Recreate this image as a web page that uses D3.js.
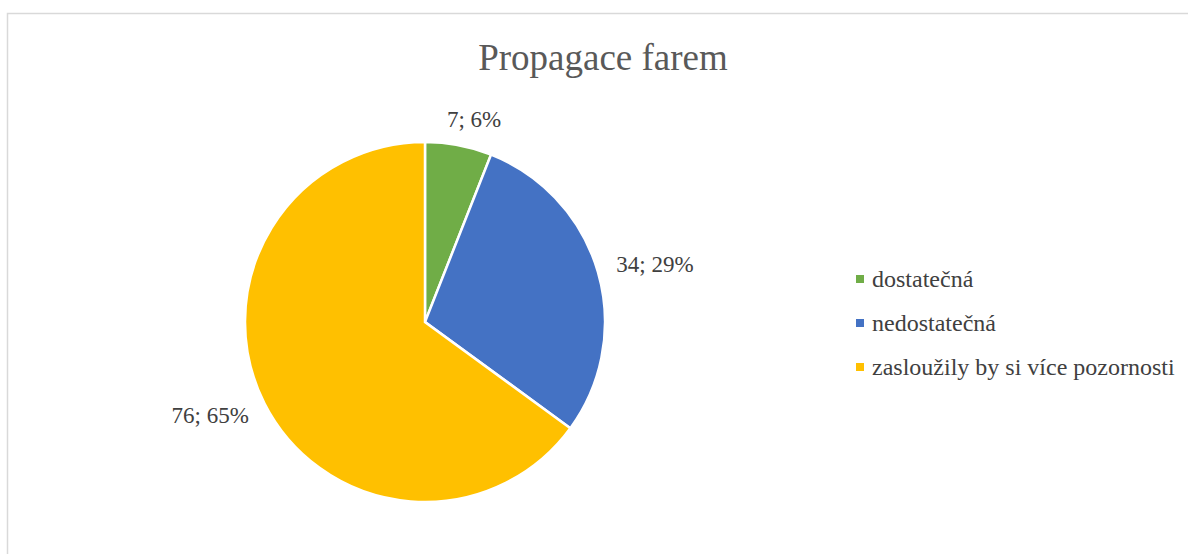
<!DOCTYPE html>
<html>
<head>
<meta charset="utf-8">
<script src="https://cdn.jsdelivr.net/npm/d3@7"></script>
<style>
  body { margin: 0; background: #fff; }
</style>
</head>
<body>
<svg id="chart" width="1188" height="554"></svg>
<script>
// data
const categories = ["dostatečná", "nedostatečná", "zasloužily by si více pozornosti"];
const values = [7, 34, 76];
const percents = ["6%", "29%", "65%"];
const colors = ["#70ad47", "#4472c4", "#ffc000"];

const FONT = "'Liberation Serif', 'Times New Roman', 'DejaVu Serif', serif";

const svg = d3.select("#chart").style("font-family", FONT);

// chart area border
svg.append("rect")
    .attr("x", 7.5).attr("y", 13.5)
    .attr("width", 1200).attr("height", 600)
    .attr("fill", "none")
    .attr("stroke", "#d9d9d9")
    .attr("stroke-width", 1.5);

svg.append("text")
    .attr("x", 603).attr("y", 70)
    .attr("text-anchor", "middle")
    .attr("font-family", FONT)
    .attr("font-size", 37)
    .attr("fill", "#595959")
    .text("Propagace farem");

const cx = 425, cy = 322, R = 180;
const data = categories.map((c, i) => ({ name: c, value: values[i], pct: percents[i], color: colors[i] }));

const pie = d3.pie().value(d => d.value).sort(null);
const arc = d3.arc().innerRadius(0).outerRadius(R);
const arcs = pie(data);

const g = svg.append("g").attr("transform", `translate(${cx},${cy})`);

g.selectAll("path")
    .data(arcs)
    .join("path")
    .attr("d", arc)
    .attr("fill", d => d.data.color)
    .attr("stroke", "#fff")
    .attr("stroke-width", 2.5);

// labels outside end
g.selectAll("text.lbl")
    .data(arcs)
    .join("text")
    .attr("class", "lbl")
    .attr("font-family", FONT)
    .attr("font-size", 23)
    .attr("fill", "#404040")
    .attr("text-anchor", "middle")
    .attr("dominant-baseline", "central")
    .text(d => d.data.value + "; " + d.data.pct)
    .each(function(d) {
        const a = (d.startAngle + d.endAngle) / 2;
        const w = this.getComputedTextLength();
        const s = Math.sin(a), c = Math.cos(a);
        const r = R + 20;
        const x = r * s + Math.sign(s) * Math.sqrt(Math.abs(s)) * w / 2;
        const y = -r * c - c * 6;
        d3.select(this).attr("x", x).attr("y", y);
    });

// legend
const legend = svg.append("g").attr("transform", "translate(856,279)");
const rows = legend.selectAll("g")
    .data(data)
    .join("g")
    .attr("transform", (d, i) => `translate(0,${i * 44})`);
rows.append("rect")
    .attr("x", 0).attr("y", -4)
    .attr("width", 8).attr("height", 8)
    .attr("fill", d => d.color);
rows.append("text")
    .attr("x", 16).attr("y", 0)
    .attr("dominant-baseline", "central")
    .attr("font-family", FONT)
    .attr("font-size", 24)
    .attr("fill", "#404040")
    .text(d => d.name);
</script>
</body>
</html>
